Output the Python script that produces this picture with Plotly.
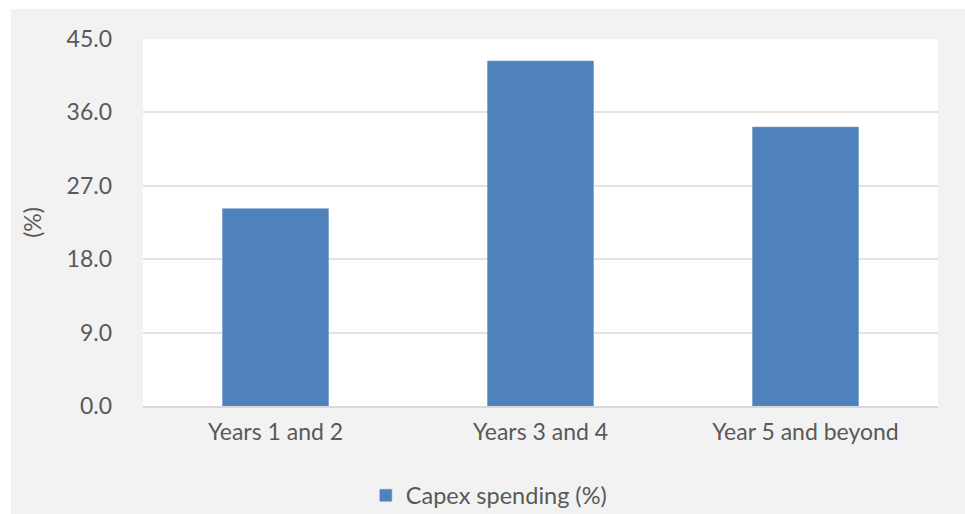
import plotly.graph_objects as go

# Capex spending by period
categories = ["Years 1 and 2", "Years 3 and 4", "Year 5 and beyond"]
capex_pct = [24.2, 42.3, 34.2]
tick_vals = [0, 9, 18, 27, 36, 45]
tick_text = ["0.0", "9.0", "18.0", "27.0", "36.0", "45.0"]

W, H = 965, 514
ML, MR, MT, MB = 143, 27, 39, 108
pw = W - ML - MR
ph = H - MT - MB

fig = go.Figure()
fig.add_trace(go.Bar(
    x=categories,
    y=capex_pct,
    name="Capex spending (%)",
    marker=dict(color="#4f81bd", line=dict(color="#6e98cc", width=0.6)),
    showlegend=True,
))

font_family = "Lato, 'Open Sans', sans-serif"
text_color = "#595959"

# white strips at top and left, outside the grey chart frame
shapes = [
    dict(type="rect", xref="paper", yref="paper", layer="below",
         x0=-ML / pw, x1=(11 - ML) / pw, y0=-MB / ph, y1=(MT) / ph + 1,
         fillcolor="white", line=dict(width=0)),
    dict(type="rect", xref="paper", yref="paper", layer="below",
         x0=-ML / pw, x1=(W - ML) / pw, y0=1 + (MT - 9) / ph, y1=1 + MT / ph,
         fillcolor="white", line=dict(width=0)),
]

fig.update_layout(
    width=W, height=H,
    margin=dict(l=ML, r=MR, t=MT, b=MB, autoexpand=False),
    paper_bgcolor="#f2f2f2",
    plot_bgcolor="white",
    bargap=0.6,
    font=dict(family=font_family, color=text_color, size=23),
    shapes=shapes,
    legend=dict(orientation="h", x=0.435, xanchor="center", y=-0.244, yanchor="middle",
                font=dict(size=23.5, color=text_color), bgcolor="rgba(0,0,0,0)",
                itemwidth=30),
    xaxis=dict(
        showgrid=False,
        showline=True, linecolor="#d9d9d9", linewidth=2,
        ticks="", tickfont=dict(size=23, color=text_color),
        ticklabelstandoff=4,
        fixedrange=True,
    ),
    yaxis=dict(
        range=[0, 45],
        tickvals=tick_vals, ticktext=tick_text,
        showgrid=True, gridcolor="#e3e3e3", gridwidth=2,
        zeroline=False, showline=False,
        tickfont=dict(size=23, color=text_color),
        ticklabelstandoff=30,
        title=dict(text="(%)", font=dict(size=23, color=text_color), standoff=18),
    ),
)

fig.write_html("out.html")
